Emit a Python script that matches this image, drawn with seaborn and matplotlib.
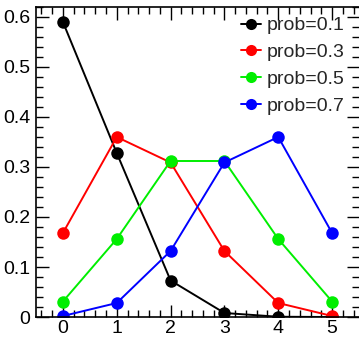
import pandas as pd
import numpy as np
import matplotlib
matplotlib.use('Agg')
import matplotlib.pyplot as plt
import seaborn as sns
from matplotlib.ticker import MultipleLocator, AutoMinorLocator, FuncFormatter

# values (binomial-looking pmf, n=5)
k = [0, 1, 2, 3, 4, 5]
p01 = [0.590, 0.328, 0.073, 0.008, 0.0005, 0.0]
p03 = [0.168, 0.360, 0.309, 0.132, 0.028, 0.002]
p05 = [0.031, 0.156, 0.312, 0.312, 0.156, 0.031]
p07 = [0.002, 0.028, 0.132, 0.309, 0.360, 0.168]
labels = ['prob=0.1', 'prob=0.3', 'prob=0.5', 'prob=0.7']
colors = ['#000000', '#ff0000', '#00ee00', '#0000ff']

df = pd.concat([
    pd.DataFrame({'k': k, 'p': vals, 'series': lab})
    for vals, lab in zip([p01, p03, p05, p07], labels)
])

sns.set_style('ticks')
plt.rcParams['font.family'] = ['Liberation Sans', 'DejaVu Sans']

fig = plt.figure(figsize=(3.59, 3.39), dpi=100)
ax = fig.add_axes([36/359, 22/339, 323/359, 310/339])

sns.lineplot(data=df, x='k', y='p', hue='series', palette=colors,
             marker='o', markersize=9, markeredgewidth=0, linewidth=1.4,
             ax=ax)

ax.set_xlim(-0.5, 5.5)
ax.set_ylim(0, 0.62)
ax.set_xlabel('')
ax.set_ylabel('')
ax.xaxis.set_major_locator(MultipleLocator(1))
ax.xaxis.set_minor_locator(AutoMinorLocator(5))
ax.yaxis.set_major_locator(MultipleLocator(0.1))
ax.yaxis.set_minor_locator(AutoMinorLocator(5))
ax.yaxis.set_major_formatter(FuncFormatter(lambda v, pos: '0' if abs(v) < 1e-9 else '%g' % v))
ax.tick_params(which='both', direction='in', top=True, right=True, labelsize=14, colors='black')
ax.tick_params(which='major', length=9, width=1)
ax.tick_params(which='minor', length=5, width=1)
ax.tick_params(axis='y', pad=4)
ax.tick_params(axis='x', pad=2.5)
for s in ax.spines.values():
    s.set_linewidth(1.2)
    s.set_color('black')
ax.spines['right'].set_visible(False)  # right edge falls outside the picture

leg = ax.legend(frameon=False, loc='upper right', fontsize=14, handlelength=1.0,
                handletextpad=0.3, labelspacing=0.48, borderaxespad=0.1,
                bbox_to_anchor=(0.985, 1.0))
for h in leg.get_lines():
    h.set_markersize(8)

fig.savefig('out.png', dpi=100)
